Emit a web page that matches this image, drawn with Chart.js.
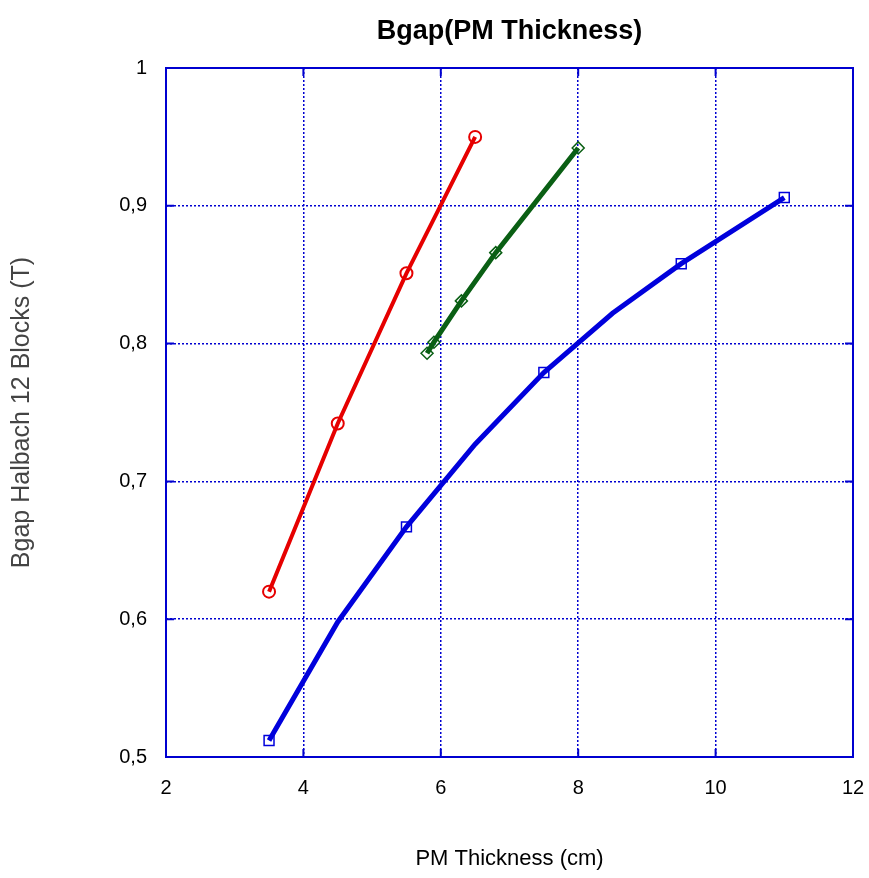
<!DOCTYPE html>
<html lang="en">
<head>
    <meta charset="UTF-8">
    <title>Bgap(PM Thickness)</title>
    <script src="https://cdn.jsdelivr.net/npm/chart.js"></script>
    <style>
        body {
            margin: 0;
            background: #fff;
        }
        #bgapChart {
            display: block;
        }
    </style>
</head>
<body>
    <canvas id="bgapChart" width="869" height="878"></canvas>

    <script>
        // PM thickness (cm) and gap flux density (T) for each configuration
        const redThickness = [3.5, 4.5, 5.5, 6.5];
        const redBgap = [0.620, 0.742, 0.851, 0.950];

        const greenThickness = [5.8, 5.9, 6.3, 6.8, 8.0];
        const greenBgap = [0.793, 0.801, 0.831, 0.866, 0.942];

        const blueThickness = [3.5, 4.5, 5.5, 6.5, 7.5, 8.5, 9.5, 11];
        const blueBgap = [0.512, 0.598, 0.667, 0.727, 0.779, 0.822, 0.858, 0.906];
        const blueMarked = [true, false, true, false, true, false, true, true];

        const xTicks = [2, 4, 6, 8, 10, 12];
        const yTicks = [0.5, 0.6, 0.7, 0.8, 0.9, 1.0];

        const frameBlue = "#0000d0";

        function toPoints(xs, ys) {
            return xs.map((x, i) => ({ x: x, y: ys[i] }));
        }

        // fixed box size, and no extra side padding for overhanging tick labels
        function fixHeight(h) {
            return s => {
                s.height = h;
                s.paddingLeft = 0;
                s.paddingRight = 0;
            };
        }

        // solid frame round the plot plus short inward tick marks on all four sides
        const framePlugin = {
            id: "frame",
            afterDraw(chart) {
                const ctx = chart.ctx;
                const a = chart.chartArea;
                const xs = chart.scales.x;
                const ys = chart.scales.y;
                ctx.save();
                ctx.strokeStyle = frameBlue;
                ctx.lineWidth = 2;
                ctx.strokeRect(a.left, a.top, a.right - a.left, a.bottom - a.top);
                ctx.beginPath();
                xTicks.forEach(v => {
                    const px = xs.getPixelForValue(v);
                    ctx.moveTo(px, a.bottom); ctx.lineTo(px, a.bottom - 8);
                    ctx.moveTo(px, a.top); ctx.lineTo(px, a.top + 8);
                });
                yTicks.forEach(v => {
                    const py = ys.getPixelForValue(v);
                    ctx.moveTo(a.left, py); ctx.lineTo(a.left + 8, py);
                    ctx.moveTo(a.right, py); ctx.lineTo(a.right - 8, py);
                });
                ctx.stroke();
                ctx.restore();
            }
        };

        const ctx = document.getElementById("bgapChart").getContext("2d");
        new Chart(ctx, {
            type: "line",
            data: {
                datasets: [
                    {
                        label: "red",
                        data: toPoints(redThickness, redBgap),
                        borderColor: "#e60000",
                        borderWidth: 4,
                        pointStyle: "circle",
                        pointRadius: 6,
                        pointBorderWidth: 2,
                        pointBackgroundColor: "rgba(255,255,255,0)",
                        pointBorderColor: "#e60000",
                        tension: 0
                    },
                    {
                        label: "green",
                        data: toPoints(greenThickness, greenBgap),
                        borderColor: "#0a5f14",
                        borderWidth: 5,
                        pointStyle: "rectRot",
                        pointRadius: 6,
                        pointBorderWidth: 1.5,
                        pointBackgroundColor: "rgba(255,255,255,0)",
                        pointBorderColor: "#0a5f14",
                        tension: 0
                    },
                    {
                        label: "blue",
                        data: toPoints(blueThickness, blueBgap),
                        borderColor: "#0000dc",
                        borderWidth: 5,
                        pointStyle: "rect",
                        pointRadius: blueMarked.map(m => m ? 7 : 0),
                        pointBorderWidth: 1.5,
                        pointBackgroundColor: "rgba(255,255,255,0)",
                        pointBorderColor: "#0000dc",
                        tension: 0
                    }
                ]
            },
            options: {
                responsive: false,
                animation: false,
                layout: { padding: { left: 0, right: 16, top: 0, bottom: 0 } },
                plugins: {
                    legend: { display: false },
                    tooltip: { enabled: false }
                },
                scales: {
                    // top axis only carries the chart title, centred over the plot
                    top: {
                        type: "linear",
                        position: "top",
                        min: 2,
                        max: 12,
                        afterFit: fixHeight(68),
                        grid: { display: false, drawTicks: false },
                        border: { display: false },
                        ticks: { display: false },
                        title: {
                            display: true,
                            text: "Bgap(PM Thickness)",
                            color: "#000",
                            font: { family: "Liberation Sans", size: 27, weight: "bold" },
                            padding: { top: 15, bottom: 15 }
                        }
                    },
                    x: {
                        type: "linear",
                        min: 2,
                        max: 12,
                        afterBuildTicks: s => { s.ticks = xTicks.map(v => ({ value: v })); },
                        afterFit: fixHeight(121),
                        grid: {
                            color: frameBlue,
                            lineWidth: 1.5,
                            drawTicks: false
                        },
                        border: { display: false, dash: [2, 2] },
                        ticks: {
                            color: "#000",
                            padding: 19,
                            font: { family: "Liberation Sans", size: 20 }
                        },
                        title: {
                            display: true,
                            text: "PM Thickness (cm)",
                            color: "#000",
                            font: { family: "Liberation Sans", size: 22 },
                            padding: { top: 6, bottom: 6 }
                        }
                    },
                    y: {
                        type: "linear",
                        min: 0.5,
                        max: 1,
                        afterBuildTicks: s => { s.ticks = yTicks.map(v => ({ value: v })); },
                        afterFit: s => { s.width = 166; },
                        grid: {
                            color: frameBlue,
                            lineWidth: 1.5,
                            drawTicks: false
                        },
                        border: { display: false, dash: [2, 2] },
                        ticks: {
                            color: "#000",
                            padding: 19,
                            font: { family: "Liberation Sans", size: 20 },
                            callback: v => v === 1 ? "1" : v.toFixed(1).replace(".", ",")
                        },
                        title: {
                            display: true,
                            text: "Bgap Halbach 12 Blocks (T)",
                            color: "#444",
                            font: { family: "Liberation Sans", size: 25 },
                            padding: { top: 7, bottom: 7 }
                        }
                    }
                }
            },
            plugins: [framePlugin]
        });
    </script>
</body>
</html>
